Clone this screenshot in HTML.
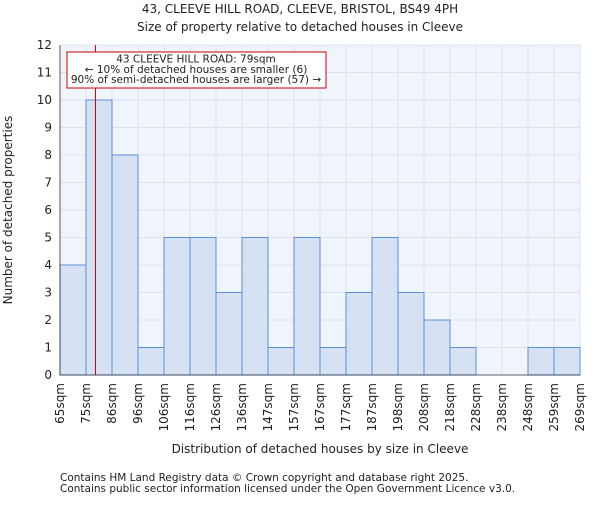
<!DOCTYPE html>
<html><head><meta charset="utf-8"><style>
body{margin:0;background:#fff;}
svg text{font-family:"DejaVu Sans","Liberation Sans",sans-serif;fill:#222;}
</style></head><body>
<svg id="c" width="600" height="500" xmlns="http://www.w3.org/2000/svg">
<text x="300" y="13" text-anchor="middle" font-size="12">43, CLEEVE HILL ROAD, CLEEVE, BRISTOL, BS49 4PH</text>
<text x="300" y="31" text-anchor="middle" font-size="12">Size of property relative to detached houses in Cleeve</text>
<rect x="60" y="45" width="520" height="330" fill="#f0f4fc"/>
<g id="grid"></g><g id="bars"></g><g id="axes"></g>
<text x="12" y="210" transform="rotate(-90 12 210)" text-anchor="middle" font-size="12">Number of detached properties</text>
<text x="320" y="457" text-anchor="middle" font-size="12" transform="translate(0,-4)">Distribution of detached houses by size in Cleeve</text>
<text x="60" y="481" font-size="10.5" fill="#555">Contains HM Land Registry data © Crown copyright and database right 2025.</text>
<text x="60" y="492" font-size="10.5" fill="#555">Contains public sector information licensed under the Open Government Licence v3.0.</text>
</svg>
<script>
const labels=["65sqm","75sqm","86sqm","96sqm","106sqm","116sqm","126sqm","136sqm","147sqm","157sqm","167sqm","177sqm","187sqm","198sqm","208sqm","218sqm","228sqm","238sqm","248sqm","259sqm","269sqm"];
const counts=[4,10,8,1,5,5,3,5,1,5,1,3,5,3,2,1,0,0,1,1];
const yTicks=[0,1,2,3,4,5,6,7,8,9,10,11,12];
const propertyBin=1+4/11;
const NS="http://www.w3.org/2000/svg";
const x0=60,x1=580,y0=375,y1=45,ymax=12;
const bw=(x1-x0)/counts.length;
const xs=i=>x0+i*bw;
const ys=v=>y0-v/ymax*(y0-y1);
function mk(t,a,p){const e=document.createElementNS(NS,t);for(const k in a)e.setAttribute(k,a[k]);p.appendChild(e);return e;}
const grid=document.getElementById('grid'),bars=document.getElementById('bars'),axes=document.getElementById('axes');
yTicks.forEach(v=>{
 const l=mk('line',{x1:x0,x2:x1,y1:ys(v),y2:ys(v),stroke:'#dde3ee','stroke-width':1},grid);
 
 
 const t=mk('text',{x:x0-8,y:ys(v)+4,'text-anchor':'end','font-size':12},axes);
 t.textContent=v;
 
 
});
labels.forEach((s,i)=>{
 const l=mk('line',{x1:xs(i),x2:xs(i),y1:y1,y2:y0,stroke:'#dde3ee','stroke-width':1},grid);
 
 
 const x=xs(i)+4,y=y0+8;
 const t=mk('text',{x:x,y:y,'text-anchor':'end','font-size':12,transform:`rotate(-90 ${x} ${y})`},axes);
 t.textContent=s;
 
 
});
counts.forEach((v,i)=>{
 if(v<=0)return;
 const r=mk('rect',{x:xs(i),y:ys(v),width:bw,height:ys(0)-ys(v),fill:'#d6e2f4',stroke:'#5b8fd6','stroke-width':1},bars);
 
 
});
const px=xs(propertyBin);
const pl=mk('line',{x1:px,x2:px,y1:y1,y2:y0,stroke:'#cc0000','stroke-width':1},bars);


const box=mk('rect',{x:67,y:52,width:259,height:36,fill:'#fff',stroke:'#cc0000','stroke-width':1},axes);


["43 CLEEVE HILL ROAD: 79sqm","← 10% of detached houses are smaller (6)","90% of semi-detached houses are larger (57) →"].forEach((s,i)=>{
 const t=mk('text',{x:196,y:62.5+i*10.3,'text-anchor':'middle','font-size':10.5},axes);
 t.textContent=s;
 
 
});
const ax=mk('path',{d:`M${x0} ${y1}V${y0}H${x1}`,fill:'none',stroke:'#333','stroke-width':0.8},axes);


</script>
</body></html>
